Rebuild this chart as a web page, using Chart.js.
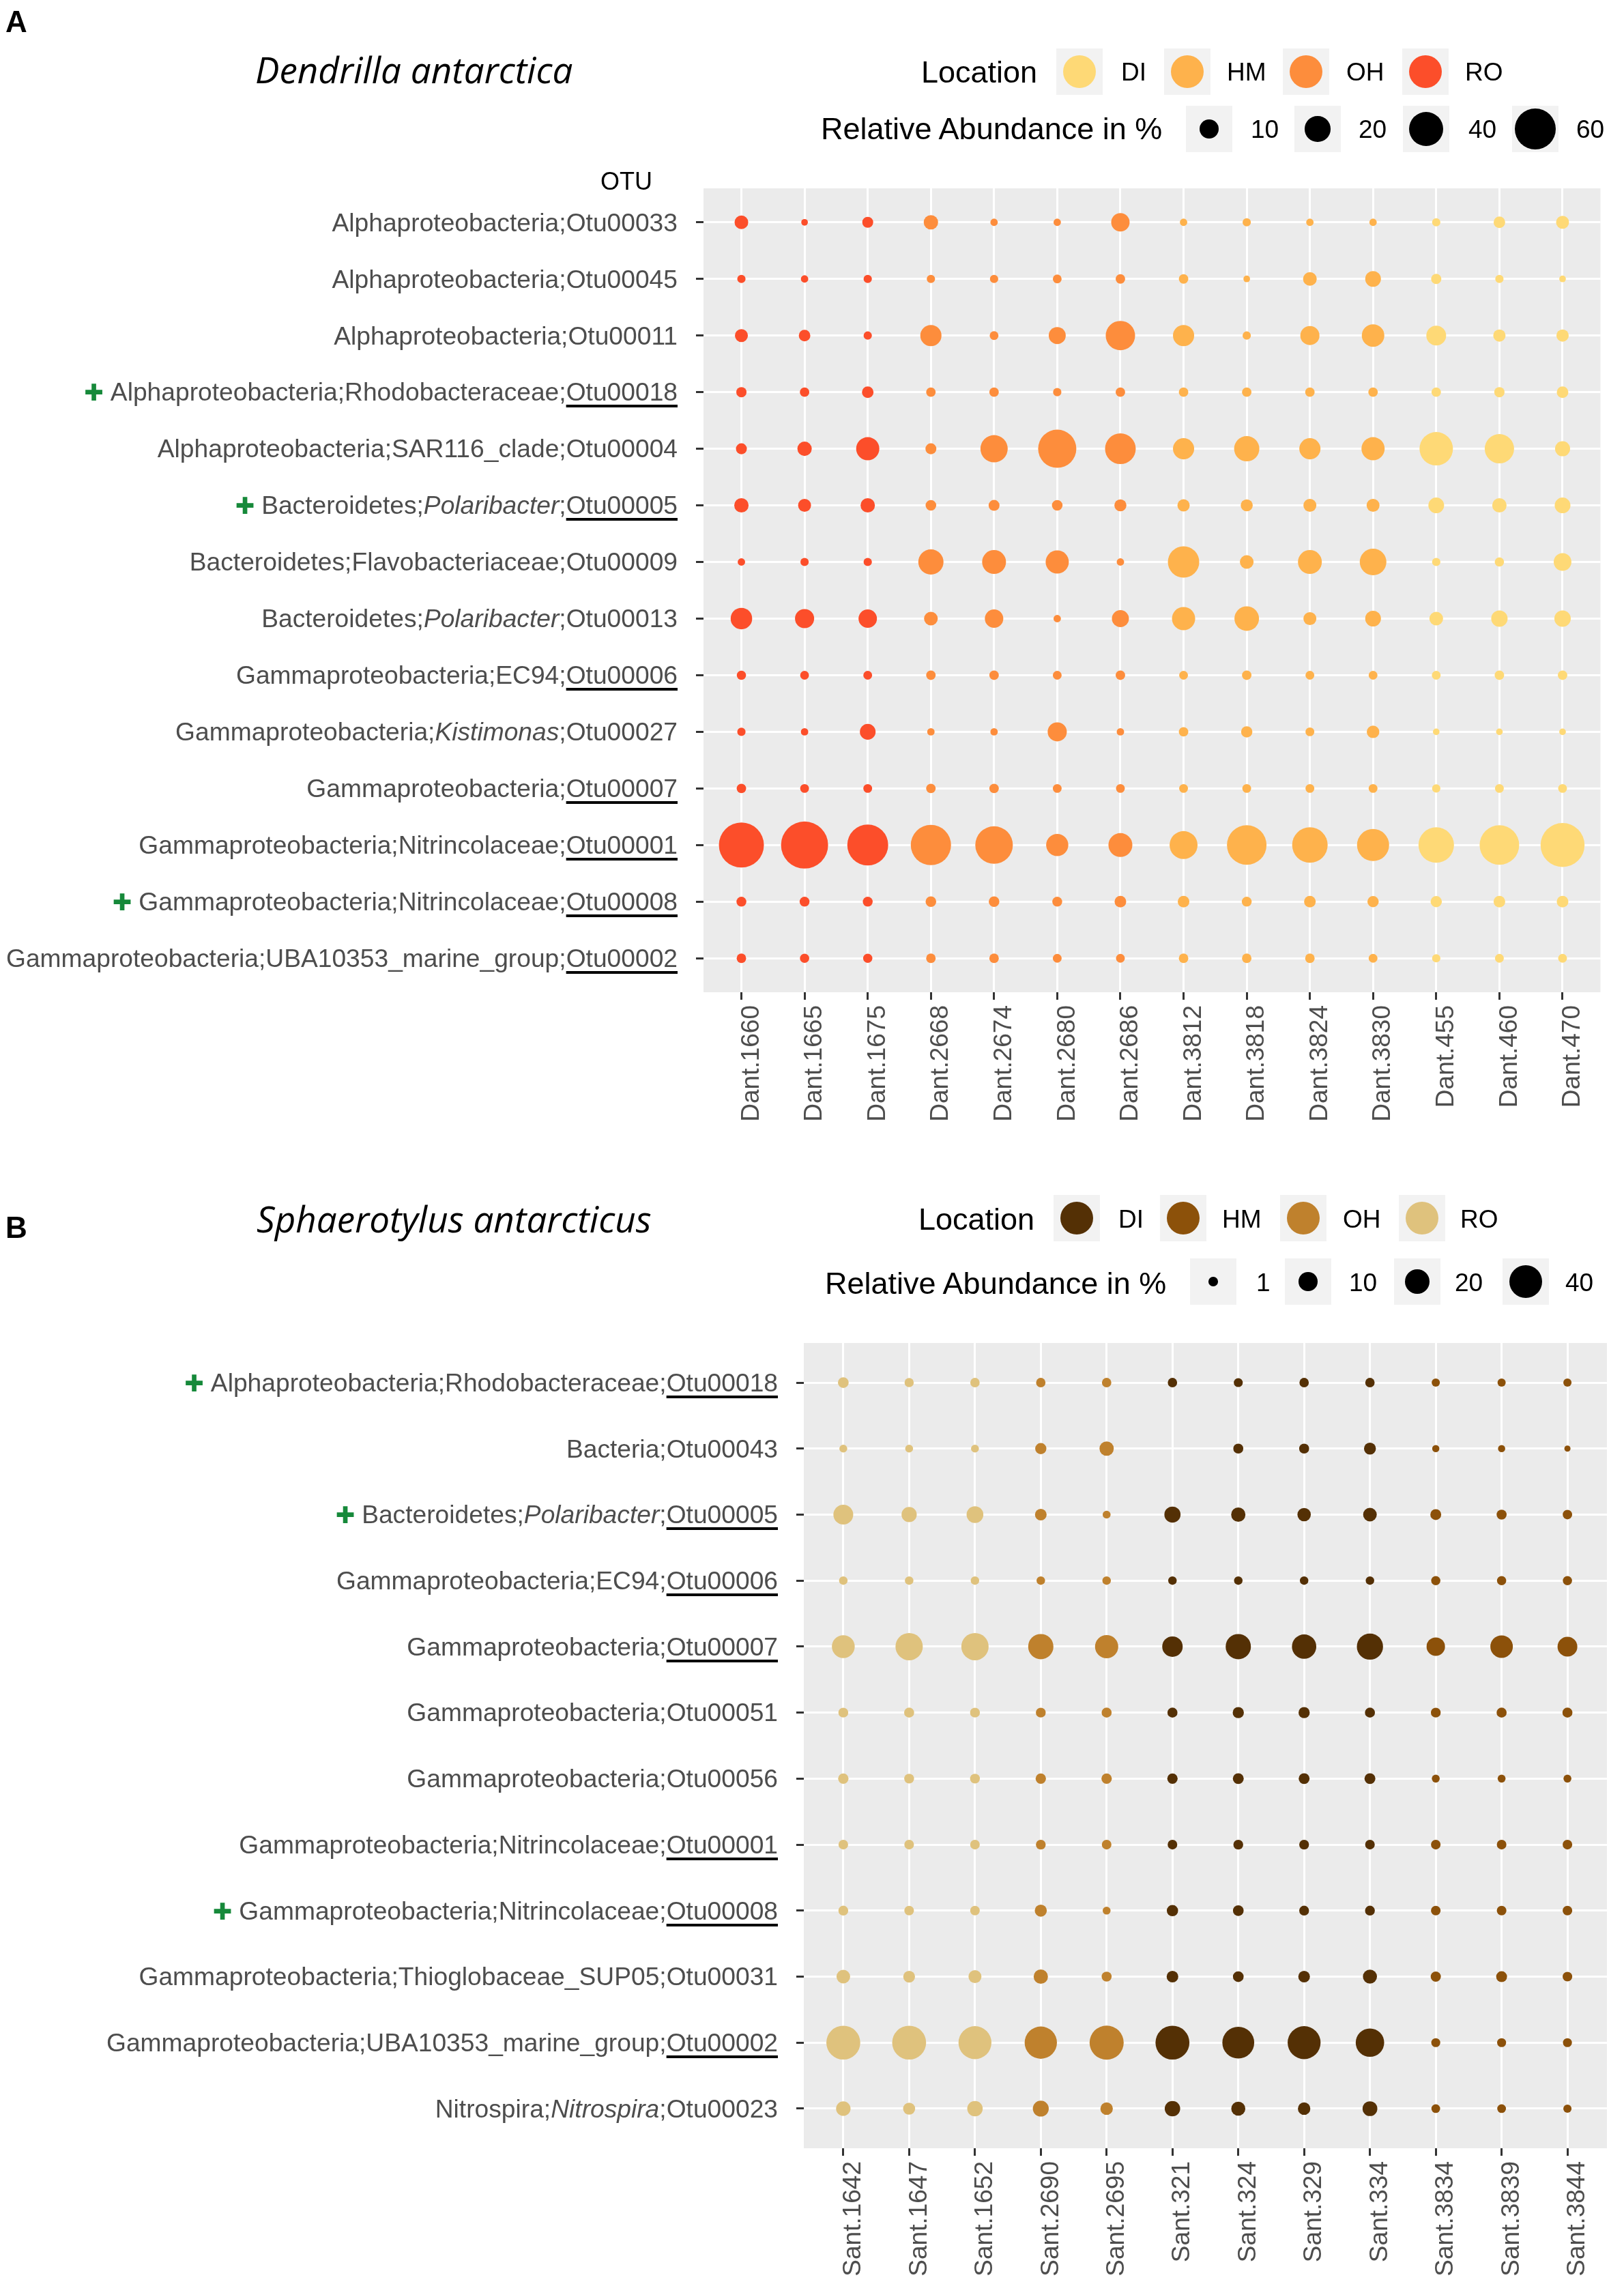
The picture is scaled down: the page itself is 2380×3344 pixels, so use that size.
<!DOCTYPE html>
<html>
<head>
<meta charset="utf-8">
<script src="https://cdn.jsdelivr.net/npm/chart.js@4.4.1/dist/chart.umd.min.js"></script>
<style>
  html, body { margin: 0; padding: 0; background: #fff; }
  body { position: relative; width: 2380px; height: 3344px; overflow: hidden;
         font-family: 'Liberation Sans', Arial, Helvetica, sans-serif; }
  canvas { position: absolute; left: 0; }
  .t { position: absolute; line-height: 1; white-space: nowrap; color: #000; }
  .title { font-family: 'Open Sans', sans-serif; font-style: italic; font-size: 53px; }
  .panel { font-weight: bold; font-size: 44px; }
  .ltitle { font-size: 45px; }
  .llab { font-size: 37px; }
  .box { position: absolute; width: 68px; height: 68px; background: #F2F2F2; }
  .dot { position: absolute; border-radius: 50%; }
  .ylab { position: absolute; line-height: 1; white-space: nowrap; font-size: 37.2px; color: #4D4D4D; }
  .ylab u { text-decoration: underline; text-decoration-color: #000;
            text-decoration-thickness: 3.5px; text-underline-offset: 6px; }
  .plus { font-family: 'DejaVu Sans', sans-serif; color: #16893A; font-size: 34px; margin-right: 10px; }
</style>
</head>
<body>
<canvas id="chartA" width="2380" height="1720" style="top:0px"></canvas>
<canvas id="chartB" width="2380" height="1624" style="top:1720px"></canvas>
<script>
// ---- Panel A: Dendrilla antarctica ----
const samplesA = ['Dant.1660','Dant.1665','Dant.1675','Dant.2668','Dant.2674','Dant.2680','Dant.2686',
                  'Dant.3812','Dant.3818','Dant.3824','Dant.3830','Dant.455','Dant.460','Dant.470'];
const sampleSiteA = ['RO','RO','RO','OH','OH','OH','OH','HM','HM','HM','HM','DI','DI','DI'];
const otusA = [
  'Alphaproteobacteria;Otu00033',
  'Alphaproteobacteria;Otu00045',
  'Alphaproteobacteria;Otu00011',
  'Alphaproteobacteria;Rhodobacteraceae;<u>Otu00018</u>',
  'Alphaproteobacteria;SAR116_clade;Otu00004',
  'Bacteroidetes;<i>Polaribacter</i>;<u>Otu00005</u>',
  'Bacteroidetes;Flavobacteriaceae;Otu00009',
  'Bacteroidetes;<i>Polaribacter</i>;Otu00013',
  'Gammaproteobacteria;EC94;<u>Otu00006</u>',
  'Gammaproteobacteria;<i>Kistimonas</i>;Otu00027',
  'Gammaproteobacteria;<u>Otu00007</u>',
  'Gammaproteobacteria;Nitrincolaceae;<u>Otu00001</u>',
  'Gammaproteobacteria;Nitrincolaceae;<u>Otu00008</u>',
  'Gammaproteobacteria;UBA10353_marine_group;<u>Otu00002</u>'
];
const plusA = [false,false,false,true,false,true,false,false,false,false,false,false,true,false];
// relative abundance in %, one row per OTU, one column per sample
const abundanceA = [
  [4.1, 0.3, 2.1, 4.7, 0.5, 0.5, 9.1, 0.5, 0.8, 0.5, 0.5, 0.8, 2.5, 3.5],
  [0.8, 0.5, 0.8, 0.8, 0.8, 1.0, 1.3, 1.3, 0.3, 4.1, 6.0, 1.7, 0.8, 0.3],
  [3.5, 2.5, 0.8, 12.9, 1.0, 7.4, 28.1, 12.9, 0.8, 10.0, 15.0, 10.9, 3.0, 3.0],
  [1.7, 1.3, 2.5, 1.3, 1.3, 0.8, 1.3, 1.3, 1.3, 1.3, 1.3, 1.3, 1.7, 2.5],
  [2.1, 4.7, 16.1, 2.1, 23.7, 51.2, 31.2, 12.9, 19.7, 12.9, 16.1, 37.9, 28.1, 5.3],
  [4.7, 3.5, 4.7, 1.9, 2.1, 1.9, 2.8, 3.0, 2.8, 3.5, 3.5, 6.0, 4.7, 6.0],
  [0.5, 0.8, 0.8, 19.7, 17.3, 16.1, 0.5, 32.8, 4.1, 17.3, 22.4, 0.8, 1.2, 8.2],
  [13.4, 10.0, 9.1, 4.1, 9.1, 0.5, 7.4, 16.1, 18.5, 3.5, 6.0, 4.1, 6.7, 6.7],
  [1.2, 1.0, 1.0, 1.3, 1.3, 1.0, 1.3, 1.0, 1.3, 1.0, 1.0, 1.0, 1.3, 1.3],
  [0.8, 0.5, 6.0, 0.5, 0.5, 10.0, 0.5, 1.3, 2.3, 1.0, 3.2, 0.3, 0.3, 0.3],
  [1.3, 1.0, 1.0, 1.3, 1.3, 1.0, 1.0, 1.0, 1.0, 1.0, 1.0, 0.8, 1.0, 1.0],
  [73.6, 81.2, 59.6, 57.5, 49.2, 14.4, 17.3, 25.1, 55.3, 43.4, 34.5, 43.4, 55.3, 70.1],
  [1.5, 1.5, 1.5, 1.9, 1.9, 1.5, 2.5, 2.5, 1.5, 2.5, 2.3, 2.3, 2.5, 2.5],
  [1.3, 1.2, 1.2, 1.3, 1.3, 1.0, 1.0, 1.3, 1.3, 1.3, 1.0, 0.8, 1.0, 1.0]
];
const locationsA = ['DI', 'HM', 'OH', 'RO'];
const locColorsA = ['#FED976', '#FEB24C', '#FD8D3C', '#FC4E2A'];
const sizeBreaksA = [10, 20, 40, 60];

// ---- Panel B: Sphaerotylus antarcticus ----
const samplesB = ['Sant.1642','Sant.1647','Sant.1652','Sant.2690','Sant.2695','Sant.321',
                  'Sant.324','Sant.329','Sant.334','Sant.3834','Sant.3839','Sant.3844'];
const sampleSiteB = ['RO','RO','RO','OH','OH','DI','DI','DI','DI','HM','HM','HM'];
const otusB = [
  'Alphaproteobacteria;Rhodobacteraceae;<u>Otu00018</u>',
  'Bacteria;Otu00043',
  'Bacteroidetes;<i>Polaribacter</i>;<u>Otu00005</u>',
  'Gammaproteobacteria;EC94;<u>Otu00006</u>',
  'Gammaproteobacteria;<u>Otu00007</u>',
  'Gammaproteobacteria;Otu00051',
  'Gammaproteobacteria;Otu00056',
  'Gammaproteobacteria;Nitrincolaceae;<u>Otu00001</u>',
  'Gammaproteobacteria;Nitrincolaceae;<u>Otu00008</u>',
  'Gammaproteobacteria;Thioglobaceae_SUP05;Otu00031',
  'Gammaproteobacteria;UBA10353_marine_group;<u>Otu00002</u>',
  'Nitrospira;<i>Nitrospira</i>;Otu00023'
];
const plusB = [true,false,true,false,false,false,false,false,true,false,false,false];
const abundanceB = [
  [1.8, 1.0, 1.1, 1.1, 1.1, 1.1, 0.9, 1.1, 1.1, 0.6, 0.6, 0.6],
  [0.5, 0.5, 0.5, 2.1, 4.6, null, 1.4, 1.4, 2.6, 0.3, 0.3, 0.1],
  [11.5, 5.5, 7.3, 2.4, 0.5, 6.6, 4.6, 3.8, 4.0, 1.9, 1.4, 1.1],
  [0.7, 0.7, 0.7, 0.7, 0.7, 0.7, 0.7, 0.7, 0.7, 1.0, 1.0, 1.0],
  [16.6, 25.8, 25.8, 21.3, 17.3, 12.5, 21.3, 19.5, 23.3, 9.5, 16.0, 11.5],
  [1.3, 1.4, 1.3, 1.3, 1.4, 1.4, 2.1, 2.1, 1.4, 1.3, 1.4, 1.4],
  [1.6, 1.3, 1.3, 1.6, 1.6, 1.6, 1.9, 1.9, 1.9, 0.5, 0.5, 0.5],
  [1.2, 1.2, 1.2, 1.3, 1.2, 1.2, 1.3, 1.3, 1.2, 1.2, 1.2, 1.2],
  [1.3, 1.2, 1.2, 2.7, 0.5, 2.2, 1.8, 1.3, 1.3, 1.2, 1.2, 1.2],
  [4.0, 2.5, 3.4, 4.6, 1.4, 2.4, 1.8, 2.4, 4.4, 1.5, 1.9, 1.2],
  [43.2, 43.2, 40.3, 38.5, 43.8, 43.2, 37.3, 40.3, 28.5, 0.9, 0.9, 0.9],
  [4.8, 2.7, 5.8, 6.3, 3.0, 5.8, 4.4, 3.0, 5.1, 0.8, 0.8, 0.6]
];
const locationsB = ['DI', 'HM', 'OH', 'RO'];
const locColorsB = ['#543005', '#8C510A', '#BF812D', '#DFC27D'];
const sizeBreaksB = [1, 10, 20, 40];

// point diameter (px) from abundance, area-like scale as in the original
const diamA = v => 5.9 + 7 * Math.sqrt(v);
const diamB = v => 7 + 6.5 * Math.sqrt(v);

const FONT = "'Liberation Sans', Arial, Helvetica, sans-serif";
const W = 2380;

function addText(txt, cls, left, capCenter, size) {
  const el = document.createElement('div');
  el.className = 't ' + cls;
  el.textContent = txt;
  el.style.left = left + 'px';
  el.style.top = (capCenter - 0.4885 * size) + 'px';
  document.body.appendChild(el);
  return el;
}
function addKey(cx, cy, d, color) {
  const b = document.createElement('div');
  b.className = 'box';
  b.style.left = (cx - 34) + 'px';
  b.style.top = (cy - 34) + 'px';
  document.body.appendChild(b);
  const c = document.createElement('div');
  c.className = 'dot';
  c.style.left = (cx - d / 2) + 'px';
  c.style.top = (cy - d / 2) + 'px';
  c.style.width = d + 'px';
  c.style.height = d + 'px';
  c.style.background = color;
  document.body.appendChild(c);
}

function buildDatasets(values, sites, locations, colors, diam) {
  return locations.map((loc, k) => {
    const pts = [];
    sites.forEach((s, col) => {
      if (s !== loc) return;
      values.forEach((row, r) => {
        if (row[col] == null) return;
        pts.push({ x: col, y: r, r: diam(row[col]) / 2, v: row[col] });
      });
    });
    return { label: loc, data: pts, backgroundColor: colors[k], borderWidth: 0, hoverBorderWidth: 0 };
  }).reverse();
}

const panelBg = {
  id: 'panelBg',
  beforeDraw(chart) {
    const { ctx, chartArea: a } = chart;
    ctx.save();
    ctx.fillStyle = '#EBEBEB';
    ctx.fillRect(a.left, a.top, a.right - a.left, a.bottom - a.top);
    ctx.restore();
  }
};

// OTU names with italics / underline / green cross, placed from the y scale
function rowLabels(rows, plus, canvasTop) {
  return {
    id: 'rowLabels',
    afterDraw(chart) {
      if (chart.$rowsDone) return;
      chart.$rowsDone = true;
      const ys = chart.scales.y;
      const right = chart.chartArea.left - 38;
      rows.forEach((html, i) => {
        const el = document.createElement('div');
        el.className = 'ylab';
        el.innerHTML = (plus[i] ? '<span class="plus">\u271A</span>' : '') + html;
        el.style.right = (W - right) + 'px';
        el.style.top = (canvasTop + ys.getPixelForValue(i) - 0.4885 * 37.2) + 'px';
        document.body.appendChild(el);
      });
    }
  };
}

function makeChart(id, samples, otus, plus, values, sites, locations, colors, diam, opt) {
  const nx = samples.length, ny = otus.length;
  const gridOpts = { color: '#FFFFFF', lineWidth: 3, tickColor: '#333333', tickWidth: 3, tickLength: 11 };
  return new Chart(document.getElementById(id), {
    type: 'bubble',
    data: { datasets: buildDatasets(values, sites, locations, colors, diam) },
    options: {
      responsive: false,
      animation: false,
      events: [],
      layout: { padding: { top: opt.top, right: opt.right, left: 0, bottom: 0 } },
      plugins: { legend: { display: false }, tooltip: { enabled: false } },
      scales: {
        x: {
          type: 'linear', position: 'bottom', min: -0.6, max: nx - 0.4,
          grid: gridOpts, border: { display: false },
          afterBuildTicks: s => { s.ticks = samples.map((_, i) => ({ value: i })); },
          afterFit: s => { s.height = opt.xHeight; },
          ticks: {
            autoSkip: false, minRotation: 90, maxRotation: 90, padding: 8,
            labelOffset: 15,
            color: '#4D4D4D', font: { family: FONT, size: 37 },
            callback: v => samples[v]
          }
        },
        y: {
          type: 'linear', reverse: true, min: -0.6, max: ny - 0.4,
          grid: gridOpts, border: { display: false },
          afterBuildTicks: s => { s.ticks = otus.map((_, i) => ({ value: i })); },
          afterFit: s => { s.width = opt.yWidth; },
          ticks: { display: false }
        }
      }
    },
    plugins: [panelBg, rowLabels(otus, plus, opt.canvasTop)]
  });
}

// ---- titles and legends ----
addText('A', 'panel', 8, 31, 44);
addText('B', 'panel', 8, 1798, 44);
const tA = document.createElement('div');
tA.className = 't title'; tA.textContent = 'Dendrilla antarctica';
tA.style.left = '374px'; tA.style.top = (122 - 0.888 * 53) + 'px';
document.body.appendChild(tA);
const tB = document.createElement('div');
tB.className = 't title'; tB.textContent = 'Sphaerotylus antarcticus';
tB.style.left = '376px'; tB.style.top = (1806 - 0.888 * 53) + 'px';
document.body.appendChild(tB);
const otu = addText('OTU', 'llab', 918, 266, 36);
otu.style.fontSize = '36px'; otu.style.transform = 'translateX(-50%)';

// legend A
addText('Location', 'ltitle', 1350, 105, 45);
[1582, 1740, 1914, 2089].forEach((cx, i) => addKey(cx, 105, 48, locColorsA[i]));
[1643, 1798, 1973, 2147].forEach((x, i) => addText(locationsA[i], 'llab', x, 105, 37));
addText('Relative Abundance in %', 'ltitle', 1203, 188, 45);
[1772, 1931, 2090, 2250].forEach((cx, i) => addKey(cx, 189, diamA(sizeBreaksA[i]), '#000'));
[1833, 1991, 2152, 2310].forEach((x, i) => addText(String(sizeBreaksA[i]), 'llab', x, 189, 37));

// legend B
addText('Location', 'ltitle', 1346, 1786, 45);
[1578, 1734, 1910, 2084].forEach((cx, i) => addKey(cx, 1785, 48, locColorsB[i]));
[1639, 1791, 1968, 2140].forEach((x, i) => addText(locationsB[i], 'llab', x, 1786, 37));
addText('Relative Abundance in %', 'ltitle', 1209, 1880, 45);
[1778, 1917, 2077, 2236].forEach((cx, i) => addKey(cx, 1878, diamB(sizeBreaksB[i]), '#000'));
[1841, 1977, 2132, 2294].forEach((x, i) => addText(String(sizeBreaksB[i]), 'llab', x, 1879, 37));

// ---- charts ----
makeChart('chartA', samplesA, otusA, plusA, abundanceA, sampleSiteA, locationsA, locColorsA, diamA,
  { top: 276, right: 8, yWidth: 1031, xHeight: 1720 - 1454, canvasTop: 0 });
makeChart('chartB', samplesB, otusB, plusB, abundanceB, sampleSiteB, locationsB, locColorsB, diamB,
  { top: 1968 - 1720, right: 11, yWidth: 1178, xHeight: 1624 - (3148 - 1720), canvasTop: 1720 });
</script>
</body>
</html>
